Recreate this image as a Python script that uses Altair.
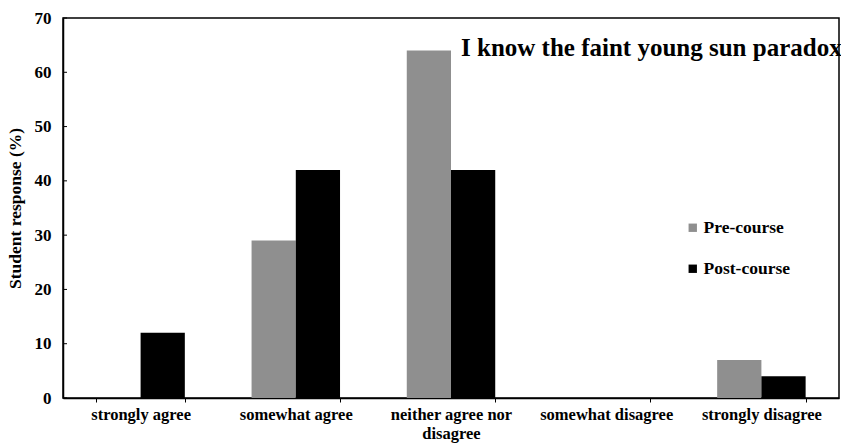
import altair as alt
import pandas as pd

categories = ["strongly agree", "somewhat agree", "neither agree nor disagree",
              "somewhat disagree", "strongly disagree"]
pre_course = [0, 29, 64, 0, 7]
post_course = [12, 42, 42, 0, 4]
series = ["Pre-course", "Post-course"]
y_ticks = [0, 10, 20, 30, 40, 50, 60, 70]
chart_title = "I know the faint young sun paradox"

rows = []
for c, p, q in zip(categories, pre_course, post_course):
    rows.append({"cat": c, "series": "Pre-course", "value": p})
    rows.append({"cat": c, "series": "Post-course", "value": q})
df = pd.DataFrame(rows)

FONT = "Liberation Serif, Times New Roman, Times, serif"

bars = alt.Chart(df).mark_bar().encode(
    x=alt.X("cat:N", sort=categories,
            scale=alt.Scale(paddingInner=0.43, paddingOuter=0.215),
            axis=alt.Axis(title=None, labelAngle=0, labelFont=FONT, labelFontSize=16.5,
                          labelFontWeight="bold", labelColor="black", labelPadding=4,
                          labelLineHeight=19,
                          tickBand="extent", tickSize=4, tickColor="black",
                          domainColor="black", domainWidth=1.5,
                          labelExpr="datum.label == 'neither agree nor disagree' ? ['neither agree nor', 'disagree'] : datum.label")),
    xOffset=alt.XOffset("series:N", sort=series),
    y=alt.Y("value:Q", scale=alt.Scale(domain=[0, 70]),
            axis=alt.Axis(values=y_ticks, title="Student response (%)", titleFont=FONT,
                          titleFontSize=17.5, titleFontWeight="bold", titleColor="black",
                          titlePadding=10, labelFont=FONT, labelFontSize=17,
                          labelFontWeight="bold", labelColor="black", labelPadding=12,
                          ticks=False, grid=False, domainColor="black", domainWidth=1.5)),
    color=alt.Color("series:N", sort=series,
                    scale=alt.Scale(domain=series, range=["#8f8f8f", "#000000"]),
                    legend=alt.Legend(title=None, orient="none", legendX=621, legendY=201,
                                      symbolType="square", symbolSize=70,
                                      symbolStrokeWidth=0, labelFont=FONT,
                                      labelFontSize=17.5, labelFontWeight="bold",
                                      labelColor="black", rowPadding=22, labelOffset=2)),
)

tick_df = pd.DataFrame({"v": y_ticks})
yticks = alt.Chart(tick_df).mark_rule(color="black", strokeWidth=1).encode(
    y=alt.Y("v:Q"), x=alt.value(0), x2=alt.value(4)
)

title_df = pd.DataFrame({"t": [chart_title]})
title = alt.Chart(title_df).mark_text(
    font=FONT, fontSize=25, fontWeight="bold", color="black", align="left",
    baseline="alphabetic"
).encode(text="t:N", x=alt.value(398), y=alt.value(38))

chart = alt.layer(bars, yticks, title).properties(
    width=776, height=380,
    autosize=alt.AutoSizeParams(type="none"),
    padding={"left": 63, "top": 18, "right": 2, "bottom": 48},
).configure_view(stroke="black", strokeWidth=1.5)

chart.save("out.html", embed_options={"renderer": "svg", "actions": False})
